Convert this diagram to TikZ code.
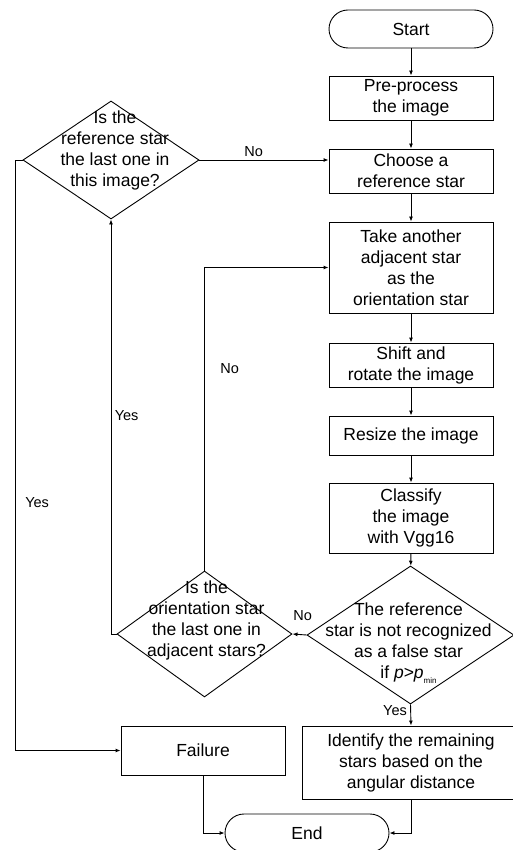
\documentclass[tikz,border=0pt]{standalone}
\usepackage{fontspec}
\setmainfont{Liberation Sans}
\usetikzlibrary{arrows.meta, shapes.geometric}

\tikzset{
    box/.style={draw, rectangle, minimum width=164pt, align=center, inner sep=0pt},
    term/.style={draw, rectangle, rounded corners=19pt, minimum width=164pt, minimum height=38pt},
    decision/.style={draw, diamond, inner sep=0pt},
    dtext/.style={align=center, inner sep=0pt},
    flow/.style={-{Latex[length=5pt, width=4pt]}},
    tag/.style={font=\fontsize{14.5}{17}\selectfont}
}

\begin{document}
\begin{tikzpicture}[x=1pt, y=-1pt, line width=0.9pt, font=\fontsize{17.5}{21}\selectfont]
                  \useasboundingbox (0, 0) rectangle (513, 850);

                  \node[term] (start) at (411, 29) {Start};
                  \node[box, minimum height=44pt] (pre) at (411, 98) {Pre-process\\the image};
                  \node[box, minimum height=44pt] (choose) at (411, 171) {Choose a\\reference star};
                  \node[box, minimum height=91pt] (take) at (411, 267.5) {Take another\\adjacent star\\as the\\orientation star};
                  \node[box, minimum height=44pt] (shift) at (411, 365) {Shift and\\rotate the image};
                  \node[box, minimum height=39pt] (resize) at (411, 435.5) {Resize the image};
                  \node[box, minimum height=70pt] (classify) at (411, 518) {Classify\\the image\\with Vgg16};
                  \node[decision, minimum width=207pt, minimum height=138pt,
                        label={[dtext, xshift=-2pt, yshift=-8pt]center:{The reference\\star is not recognized\\as a false star\\if \textit{p}>\textit{p}\raisebox{-0.5ex}{\fontsize{8}{8}\selectfont min}}}] (recog) at (410.5, 635) {};
                  \node[decision, minimum width=175pt, minimum height=126pt,
                        label={[dtext, xshift=2pt, yshift=14pt]center:{Is the\\orientation star\\the last one in\\adjacent stars?}}] (orient) at (204.5, 634) {};
                  \node[decision, minimum width=176pt, minimum height=118pt,
                        label={[dtext, xshift=4pt, yshift=10pt]center:{Is the\\reference star\\the last one in\\this image?}}] (last) at (111, 160) {};
                  \node[box, minimum height=49pt] (failure) at (203, 750.5) {Failure};
                  \node[box, minimum width=218pt, minimum height=73pt] (identify) at (411, 762.5) {Identify the remaining\\stars based on the\\angular distance};
                  \node[term] (finish) at (307, 833) {End};

                  \draw[flow] (start) -- (pre);
                  \draw[flow] (pre) -- (choose);
                  \draw[flow] (choose) -- (take);
                  \draw[flow] (take) -- (shift);
                  \draw[flow] (shift) -- (resize);
                  \draw[flow] (resize) -- (classify);
                  \draw[flow] (classify) -- (recog);
                  \draw[flow] (recog.west) -- (orient.east) node[tag, pos=0.27, above, yshift=10pt] {No};
                  \draw[flow] (recog.south) -- (identify.north) node[tag, pos=0.3, left] {Yes};
                  \draw[flow] (orient.north) |- (take.west) node[tag, pos=0.333, right, xshift=12pt] {No};
                  \draw[flow] (orient.west) -| (last.south) node[tag, pos=0.764, right] {Yes};
                  \draw[flow] (last.east) -- (last.east -| choose.west) node[tag, pos=0.42, above] {No};
                  \draw[flow] (last.west) -- ++(-7, 0) |- (failure.west) node[tag, pos=0.29, right, xshift=6pt] {Yes};
                  \draw[flow] (failure.south) |- (finish.west);
                  \draw[flow] (identify.south) |- (finish.east);
              \end{tikzpicture}
\end{document}
